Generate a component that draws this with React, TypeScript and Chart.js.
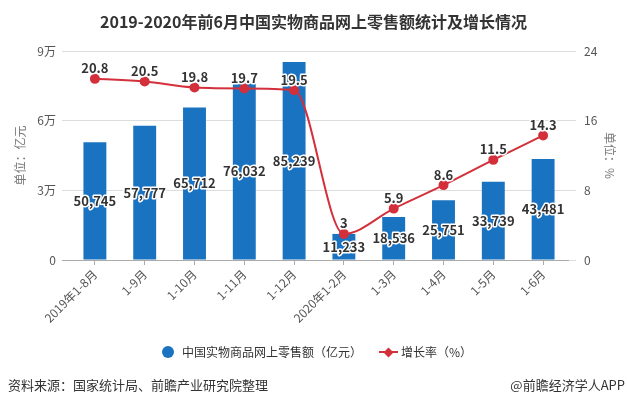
import React, { useEffect, useRef } from "react";
import { Chart, registerables } from "chart.js";

Chart.register(...registerables);

const categories = ["2019年1-8月", "1-9月", "1-10月", "1-11月", "1-12月", "2020年1-2月", "1-3月", "1-4月", "1-5月", "1-6月"];
const salesValues = [50745, 57777, 65712, 76032, 85239, 11233, 18536, 25751, 33739, 43481];
const growthValues = [20.8, 20.5, 19.8, 19.7, 19.5, 3, 5.9, 8.6, 11.5, 14.3];
const leftTickValues = [0, 30000, 60000, 90000];
const leftTickLabels = ["0", "3万", "6万", "9万"];
const rightTickValues = [0, 8, 16, 24];

const FONT = '"Noto Sans CJK SC", "Noto Sans", sans-serif';
const BAR_COLOR = "#1a73c0";
const LINE_COLOR = "#d3303b";

const labelPlugin = {
  id: "valueLabels",
  afterDatasetsDraw(chart: any) {
    const ctx = chart.ctx;
    ctx.save();
    ctx.textAlign = "center";
    ctx.lineJoin = "round";
    ctx.strokeStyle = "#ffffff";
    ctx.fillStyle = "#333333";
    ctx.font = `bold 13px ${FONT}`;
    ctx.textBaseline = "middle";
    ctx.lineWidth = 3;
    const barMeta = chart.getDatasetMeta(0);
    barMeta.data.forEach((el: any, i: number) => {
      const p = el.getProps(["x", "y", "base"], true);
      const cy = (p.y + p.base) / 2;
      const t = salesValues[i].toLocaleString("en-US");
      ctx.strokeText(t, p.x, cy);
      ctx.fillText(t, p.x, cy);
    });
    const lineMeta = chart.getDatasetMeta(1);
    ctx.font = `bold 13px ${FONT}`;
    ctx.textBaseline = "bottom";
    lineMeta.data.forEach((el: any, i: number) => {
      const p = el.getProps(["x", "y"], true);
      const t = String(growthValues[i]);
      ctx.strokeText(t, p.x, p.y - 4);
      ctx.fillText(t, p.x, p.y - 4);
    });
    ctx.restore();
  },
};

export default function App() {
  const canvasRef = useRef<HTMLCanvasElement | null>(null);

  useEffect(() => {
    if (!canvasRef.current) return;
    Chart.defaults.font.family = FONT;
    const chart = new Chart(canvasRef.current, {
      type: "bar",
      data: {
        labels: categories,
        datasets: [
          {
            type: "bar",
            label: "中国实物商品网上零售额（亿元）",
            data: salesValues,
            backgroundColor: BAR_COLOR,
            yAxisID: "y",
            order: 2,
            categoryPercentage: 1,
            barPercentage: 0.46,
          } as any,
          {
            type: "line",
            label: "增长率（%）",
            data: growthValues,
            borderColor: LINE_COLOR,
            backgroundColor: LINE_COLOR,
            pointBackgroundColor: LINE_COLOR,
            pointBorderColor: LINE_COLOR,
            pointRadius: 4,
            borderWidth: 2,
            cubicInterpolationMode: "monotone",
            yAxisID: "y1",
            order: 1,
          } as any,
        ],
      },
      options: {
        responsive: false,
        animation: false,
        layout: { padding: { top: 51, bottom: 67, left: 0, right: 0 } },
        plugins: {
          legend: { display: false },
          tooltip: { enabled: false },
          title: { display: false },
        },
        scales: {
          x: {
            grid: { offset: false, drawOnChartArea: false, drawTicks: true, tickLength: 5, color: "#aaaaaa" },
            border: { display: true, color: "#aaaaaa" },
            ticks: {
              autoSkip: false,
              maxRotation: 45,
              minRotation: 45,
              color: "#555555",
              font: { size: 12, family: FONT },
              padding: 2,
            },
            afterFit: (s: any) => {
              s.height = 75;
            },
          },
          y: {
            position: "left",
            min: 0,
            max: 90000,
            afterBuildTicks: (s: any) => {
              s.ticks = leftTickValues.map((v) => ({ value: v }));
            },
            ticks: {
              color: "#555555",
              font: { size: 12, family: FONT },
              padding: 6,
              callback: (v: any) => leftTickLabels[leftTickValues.indexOf(Number(v))],
            },
            grid: {
              color: (c: any) => (c.tick && c.tick.value === 0 ? "#aaaaaa" : "#dddddd"),
              tickLength: 8,
              drawTicks: true,
            },
            border: { display: false },
            title: {
              display: true,
              text: "单位：亿元",
              color: "#777777",
              font: { size: 12, family: FONT },
              padding: { top: 13, bottom: 0 },
            },
            afterFit: (s: any) => {
              s.width = 70;
            },
          },
          y1: {
            position: "right",
            min: 0,
            max: 24,
            afterBuildTicks: (s: any) => {
              s.ticks = rightTickValues.map((v) => ({ value: v }));
            },
            ticks: {
              color: "#555555",
              font: { size: 12, family: FONT },
              padding: 8,
            },
            grid: { drawOnChartArea: false, drawTicks: true, tickLength: 8, color: "#dddddd" },
            border: { display: false },
            title: {
              display: true,
              text: "单位：%",
              color: "#777777",
              font: { size: 12, family: FONT },
              padding: { top: 10, bottom: 0 },
            },
            afterFit: (s: any) => {
              s.width = 59;
            },
          },
        },
      } as any,
      plugins: [labelPlugin],
    });
    return () => chart.destroy();
  }, []);

  const textBase: React.CSSProperties = { position: "absolute", fontFamily: FONT, whiteSpace: "nowrap" };

  return (
    <div style={{ position: "fixed", left: 0, top: 0, width: 627, height: 402, background: "#ffffff", overflow: "hidden" }}>
      <canvas ref={canvasRef} width={627} height={402} style={{ position: "absolute", left: 0, top: 0, width: 627, height: 402 }} />
      <div style={{ ...textBase, left: 0, top: 11, width: 627, textAlign: "center", fontSize: 16, fontWeight: "bold", lineHeight: "20px", color: "#333333" }}>
        2019-2020年前6月中国实物商品网上零售额统计及增长情况
      </div>
      <div style={{ position: "absolute", left: 162, top: 346, width: 12, height: 12, borderRadius: "50%", background: BAR_COLOR }} />
      <div style={{ ...textBase, left: 182, top: 344, fontSize: 12, lineHeight: "16px", color: "#333333" }}>中国实物商品网上零售额（亿元）</div>
      <div style={{ position: "absolute", left: 379, top: 351, width: 19, height: 2, background: LINE_COLOR }} />
      <div style={{ position: "absolute", left: 385, top: 349, width: 7, height: 7, transform: "rotate(45deg)", background: LINE_COLOR }} />
      <div style={{ ...textBase, left: 401, top: 344, fontSize: 12, lineHeight: "16px", color: "#333333" }}>增长率（%）</div>
      <div style={{ ...textBase, left: 8, top: 376, fontSize: 13, lineHeight: "18px", color: "#333333" }}>资料来源：国家统计局、前瞻产业研究院整理</div>
      <div style={{ ...textBase, right: 2, top: 376, fontSize: 13, lineHeight: "18px", color: "#333333" }}>@前瞻经济学人APP</div>
    </div>
  );
}
